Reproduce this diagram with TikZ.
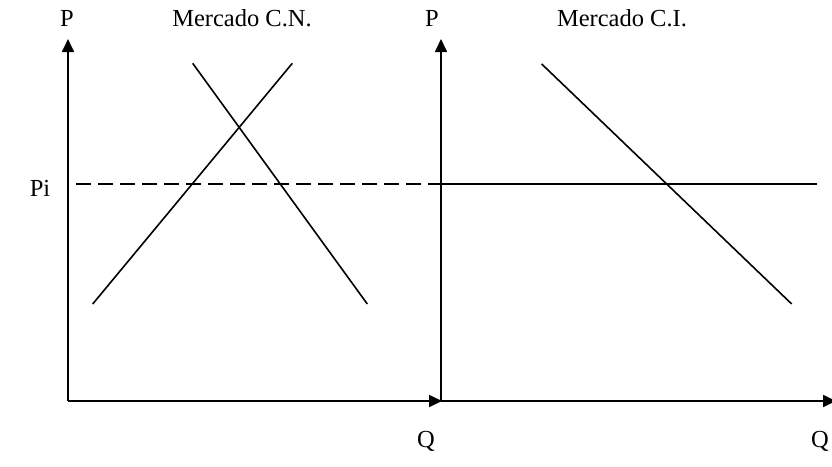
\documentclass[tikz,border=0pt]{standalone}
\usepackage{fontspec}
\setmainfont{Liberation Serif}
\usetikzlibrary{arrows.meta}
\begin{document}
\begin{tikzpicture}[x=1pt,y=-1pt,
  axis/.style={line width=1.7pt,-{Triangle[length=13pt,width=12pt]}},
  curve/.style={line width=1.6pt},
  lbl/.style={inner sep=0pt,font=\fontsize{24.5}{26}\selectfont}]
\useasboundingbox (0,0) rectangle (832,466);
% left graph
\coordinate (o1) at (68,401);
\coordinate (y1) at (68,39);
\coordinate (x1) at (442,401);
\draw[axis] (o1) -- (y1);
\draw[axis] (o1) -- (x1);
% right graph
\coordinate (o2) at (441,401);
\coordinate (y2) at (441,39);
\coordinate (x2) at (836,401);
\draw[axis] (o2) -- (y2);
\draw[axis] (o2) -- (x2);
% curves left
\coordinate (s1a) at (92.7,304);
\coordinate (s1b) at (292.3,63.3);
\coordinate (d1a) at (192.7,63.3);
\coordinate (d1b) at (367.3,304);
\draw[curve] (s1a) -- (s1b);
\draw[curve] (d1a) -- (d1b);
% price line
\coordinate (pa) at (76,184);
\coordinate (pb) at (441,184);
\coordinate (pc) at (817,184);
\draw[curve,dash pattern=on 15pt off 7pt] (pa) -- (pb);
\draw[curve] (pb) -- (pc);
% right demand
\coordinate (d2a) at (541.7,64);
\coordinate (d2b) at (791.7,304);
\draw[curve] (d2a) -- (d2b);
% labels
\node[lbl] (lp1) at (67,18) {P};
\node[lbl] (lm1) at (242,18) {Mercado C.N.};
\node[lbl] (lp2) at (432,18) {P};
\node[lbl] (lm2) at (622,18) {Mercado C.I.};
\node[lbl] (lpi) at (40,188) {Pi};
\node[lbl] (lq1) at (426,441) {Q};
\node[lbl] (lq2) at (820,441) {Q};
\end{tikzpicture}
\end{document}
